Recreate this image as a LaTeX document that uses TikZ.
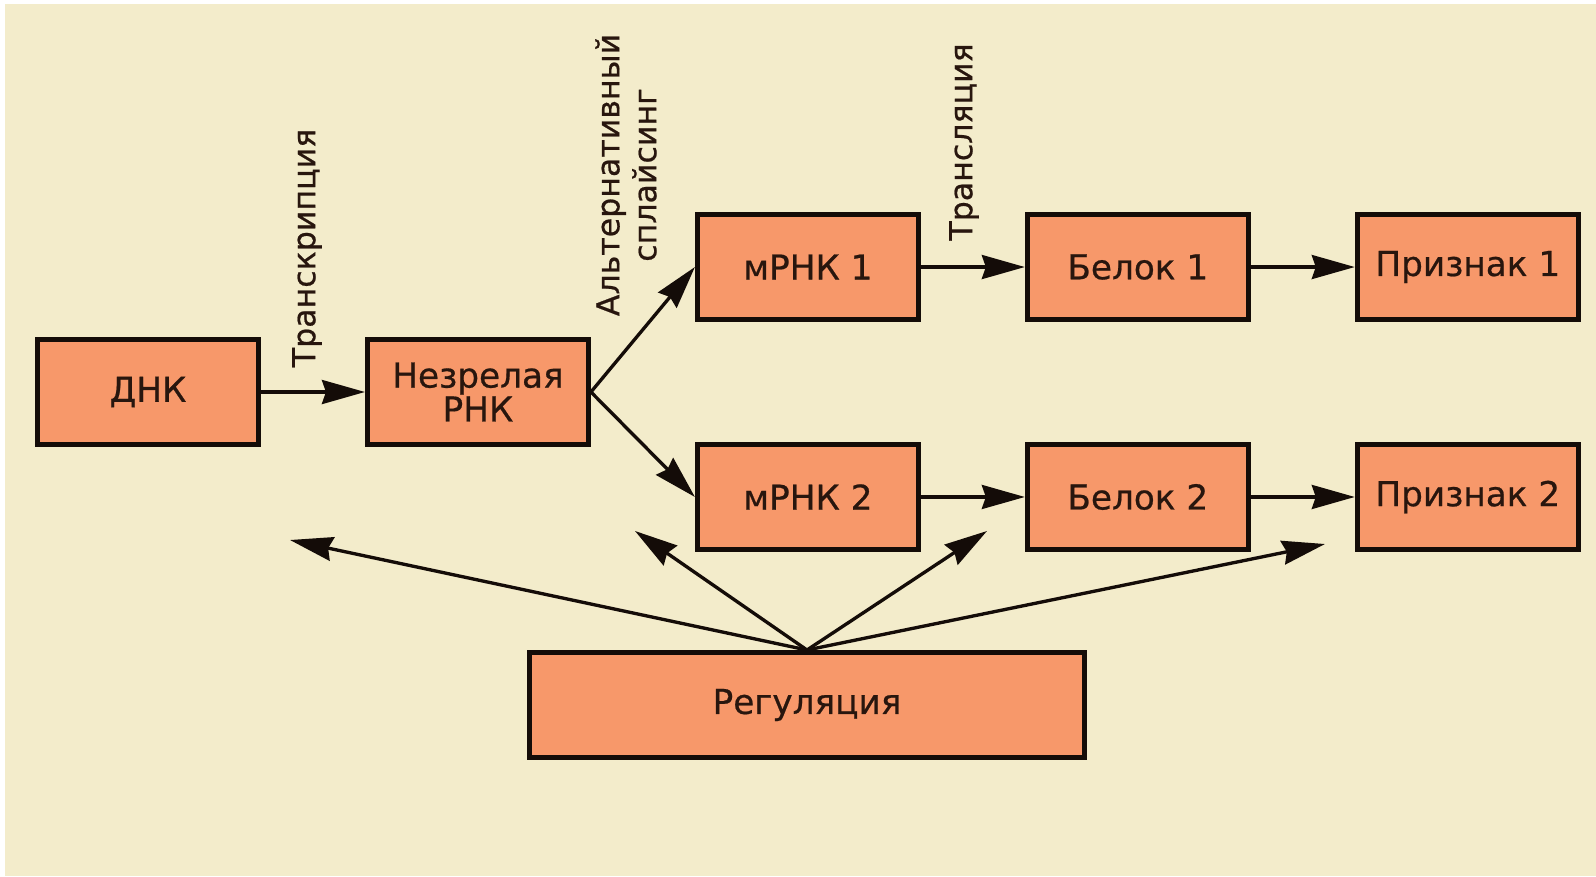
\documentclass[tikz,border=0pt]{standalone}
\usepackage{fontspec}
\setmainfont{DejaVu Sans}[FakeBold=0.6]
\usepackage{tikz}
\usetikzlibrary{arrows.meta,positioning}

\definecolor{bgc}{RGB}{243,236,203}
\definecolor{boxc}{RGB}{247,152,106}
\definecolor{edgec}{RGB}{20,12,8}
\definecolor{inkc}{RGB}{40,22,14}

\begin{document}
\begin{tikzpicture}[x=0.02cm,y=-0.02cm,node distance=2.08cm,>={Stealth[length=0.86cm,width=0.48cm,inset=0.08cm]},
  every node/.style={font=\fontsize{19.5}{17.5}\selectfont,text=inkc},
  stage/.style={draw=edgec,line width=2.85pt,fill=boxc,minimum width=4.42cm,minimum height=2.1cm,align=center,inner sep=0pt},
  lbl/.style={rotate=90,font=\fontsize{18}{21}\selectfont,align=center},
  flow/.style={->,line width=1.9pt,draw=edgec}]
\useasboundingbox (0,0) rectangle (1596,876);
\fill[white] (0,0) rectangle (1596,876);
\fill[bgc] (5,4) rectangle (1596,876);

\node[stage] (dna) at (148,392) {ДНК};
\node[stage,right=of dna] (pre) {Незрелая\\РНК};
\node[stage,right=of pre,yshift=2.5cm] (m1) {мРНК 1};
\node[stage,right=of pre,yshift=-2.1cm] (m2) {мРНК 2};
\node[stage,right=of m1] (p1) {Белок 1};
\node[stage,right=of p1] (t1) {Признак 1};
\node[stage,right=of m2] (p2) {Белок 2};
\node[stage,right=of p2] (t2) {Признак 2};
\node[stage,minimum width=11.1cm] (reg) at (807,705) {Регуляция};

\node[lbl] (transcr) at (307,248) {Транскрипция};
\node[lbl] (splice) at (626,175) {Альтернативный\\сплайсинг};
\node[lbl] (transl) at (964,142) {Трансляция};

\draw[flow] (dna) -- (pre);
\draw[flow] (pre.east) -- (m1.west);
\draw[flow] (pre.east) -- (m2.west);
\draw[flow] (m1) -- (p1);
\draw[flow] (p1) -- (t1);
\draw[flow] (m2) -- (p2);
\draw[flow] (p2) -- (t2);

% regulation targets
\coordinate (rdna) at (290,540);
\coordinate (rpre) at (635,531);
\coordinate (rprot) at (987,531);
\coordinate (rtrait) at (1325,544);
\draw[flow] (reg.north) -- (rdna);
\draw[flow] (reg.north) -- (rpre);
\draw[flow] (reg.north) -- (rprot);
\draw[flow] (reg.north) -- (rtrait);
\end{tikzpicture}
\end{document}
